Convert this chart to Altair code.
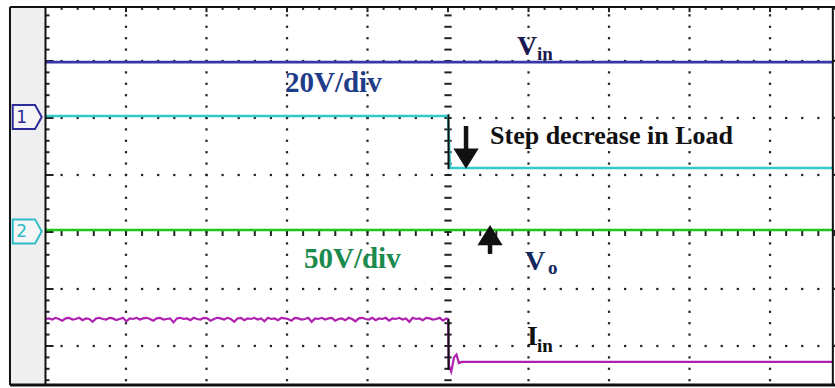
import altair as alt
import numpy as np
import pandas as pd

# ---- screen geometry, in divisions (graticule centre = 0,0) ----
X_MIN, X_MAX = -5.565, 4.807
Y_MIN, Y_MAX = -2.737, 4.070
SCR_LEFT, SCR_RIGHT = -5.0, 4.78
SCR_TOP, SCR_BOTTOM = 3.947, -2.684
STRIP_LEFT = -5.441

# ---- trace levels, in divisions ----
vin_level = 2.98
ch1_before, ch1_after = 2.035, 1.123
vo_level = 0.035
iin_before, iin_after = -1.526, -2.28

# Iin ripple before the load step (offset from the mean level, div)
iin_ripple = [0.00, 0.01, -0.01, 0.02, 0.00, -0.03, 0.01, 0.02, -0.01, 0.00,
              0.02, -0.02, 0.01, 0.00, -0.05, 0.01, 0.02, 0.00, -0.01, 0.02,
              0.01, -0.02, 0.00, 0.02, -0.04, 0.01, 0.00, 0.02, -0.01, 0.01,
              0.02, 0.00, -0.03, 0.01, 0.02, -0.01, 0.00, 0.01, -0.06, 0.01,
              0.02, 0.00, 0.01, -0.02, 0.02, 0.00, -0.01, 0.02, 0.01, -0.03,
              0.00, 0.02, 0.01, -0.01, 0.02, 0.00, -0.05, 0.01, 0.02, -0.02,
              0.01, 0.00, 0.02, -0.01, 0.01, -0.04, 0.02, 0.00, 0.01, -0.02,
              0.02, 0.01, 0.00, -0.03, 0.02, 0.01, -0.01, 0.00, 0.02, -0.05,
              0.01, 0.00, 0.02, -0.01, 0.01, 0.02, -0.03, 0.00, 0.01, -0.02,
              0.02, 0.00, -0.04, 0.01, 0.02, 0.00, -0.01, 0.02, -0.02, 0.01,
              0.00, 0.02, -0.03, 0.01, 0.00, 0.02, -0.01, 0.01, -0.05, 0.02,
              0.00, 0.01, -0.02, 0.02, 0.01, -0.01, 0.00, 0.02, -0.03, 0.01]
# Iin transient right after the step
iin_step_t = [0.0, 0.012, 0.04, 0.075, 0.105, 0.135, 0.17, SCR_RIGHT]
iin_step_v = [iin_before, -2.35, -2.45, -2.20, -2.15, -2.30, iin_after, iin_after]

XS = alt.Scale(domain=[X_MIN, X_MAX], nice=False, zero=False)
YS = alt.Scale(domain=[Y_MIN, Y_MAX], nice=False, zero=False)


def X(f="t"):
    return alt.X(f"{f}:Q", scale=XS, axis=None)


def Y(f="v"):
    return alt.Y(f"{f}:Q", scale=YS, axis=None)


def segs(rows):
    return pd.DataFrame(rows, columns=["t", "t2", "v", "v2"])


def hline(v, t0=SCR_LEFT, t1=SCR_RIGHT):
    return (t0, t1, v, v)


def vline(t, v0=SCR_BOTTOM, v1=SCR_TOP):
    return (t, t, v0, v1)


def rules(rows, color, width):
    return alt.Chart(segs(rows)).mark_rule(color=color, strokeWidth=width).encode(
        x=X(), x2=alt.X2("t2"), y=Y(), y2=alt.Y2("v2"))


# ---- left gray strip ----
strip = alt.Chart(pd.DataFrame([{"t": STRIP_LEFT, "t2": SCR_LEFT,
                                 "v": SCR_BOTTOM, "v2": SCR_TOP}])).mark_rect(
    color="#efefef").encode(x=X(), x2=alt.X2("t2"), y=Y(), y2=alt.Y2("v2"))

# ---- graticule dots ----
minor_v = [round(k * 0.2, 2) for k in range(-13, 20)]
minor_t = [round(k * 0.2, 2) for k in range(-24, 25)]
dots = []
for tg in [-4, -3, -2, -1, 1, 2, 3, 4]:
    dots += [(tg, v) for v in minor_v]
for vg in [3, 2, 1, -1, -2]:
    dots += [(t, vg) for t in minor_t]
grid = alt.Chart(pd.DataFrame(dots, columns=["t", "v"])).mark_square(
    size=5, color="#222", opacity=1).encode(x=X(), y=Y())

# ---- centre axes and edge ticks ----
centre_v = rules([(-0.045, 0.045, v, v) for v in minor_v], "#222", 2)
centre_h = rules([(t, t, vo_level, -0.07) for t in minor_t], "#222", 2)
left_ticks = rules([(SCR_LEFT, SCR_LEFT + (0.1 if abs(v - round(v)) < 1e-6 else 0.05), v, v)
                    for v in minor_v], "#222", 2)
top_ticks = rules([(t, t, SCR_TOP, SCR_TOP - (0.09 if abs(t - round(t)) < 1e-6 else 0.05))
                   for t in minor_t], "#222", 2)


# ---- traces ----
def trace(ts, vs, color, width):
    return alt.Chart(pd.DataFrame({"t": ts, "v": vs, "i": range(len(ts))})).mark_line(
        color=color, strokeWidth=width, interpolate="linear").encode(
        x=X(), y=Y(), order="i:Q")


vin_tr = trace([SCR_LEFT, SCR_RIGHT], [vin_level, vin_level], "#3636a6", 2.6)
ch1_tr = trace([SCR_LEFT, 0.0, 0.025, SCR_RIGHT],
               [ch1_before, ch1_before, ch1_after, ch1_after], "#35c8c8", 2.5)
vo_tr = trace([SCR_LEFT, SCR_RIGHT], [vo_level, vo_level], "#22c422", 2.5)
pre_t = list(np.linspace(SCR_LEFT, -0.02, len(iin_ripple)))
iin_tr = trace(pre_t + iin_step_t,
               [iin_before + d for d in iin_ripple] + iin_step_v, "#b020b0", 2.2)
step_edges = rules([(0.006, 0.006, ch1_before + 0.03, ch1_after - 0.02),
                    (0.006, 0.006, iin_before, -2.42)], "#111", 2)

# ---- frame ----
frame = rules([hline(SCR_TOP, STRIP_LEFT, X_MAX),
               vline(STRIP_LEFT), vline(SCR_LEFT), vline(SCR_RIGHT)], "#111", 2)
frame_bottom = rules([hline(SCR_BOTTOM, STRIP_LEFT, X_MAX)], "#111", 3)

# ---- channel markers ----
TAG = "M-1,-0.83L0.54,-0.83L1,0L0.54,0.83L-1,0.83Z"
markers = pd.DataFrame({"t": [-5.227, -5.227], "v": [2.018, 0.01],
                        "label": ["1", "2"], "col": ["#2b2b9a", "#2fbcc6"]})
tags = alt.Chart(markers).mark_point(
    shape=TAG, size=841, filled=True, fill="#f6f6f6", strokeWidth=2, opacity=1,
    fillOpacity=1).encode(x=X(), y=Y(), stroke=alt.Stroke("col:N", scale=None))
tag_text = alt.Chart(markers).mark_text(
    font="DejaVu Sans", fontSize=17, dx=-5.5, dy=1, baseline="middle", align="center").encode(
    x=X(), y=Y(), text="label:N", color=alt.Color("col:N", scale=None))

# ---- arrows ----
arrow_shafts = rules([(0.224, 0.224, 1.86, 1.42), (0.522, 0.522, -0.04, -0.385)], "#111", 4.5)
heads = pd.DataFrame({"t": [0.224, 0.522], "v": [1.289, -0.053],
                      "shape": ["M-1,-0.8L1,-0.8L0,0.8Z", "M-1,0.8L1,0.8L0,-0.8Z"]})
arrow_heads = alt.Chart(heads).mark_point(filled=True, color="#111", opacity=1, size=640).encode(
    x=X(), y=Y(), shape=alt.Shape("shape:N", scale=None))

# ---- labels ----
labels = pd.DataFrame([
    ("20V/div", -2.025, 2.456, 29, "#1f3c88"),
    ("50V/div", -1.789, -0.632, 29, "#1a8a4e"),
    ("Step decrease in Load", 0.522, 1.544, 26, "#111111"),
    ("V", 0.857, 3.105, 28, "#1a1a50"),
    ("in", 1.106, 3.018, 19, "#1a1a50"),
    ("V", 0.957, -0.667, 28, "#14285e"),
    ("o", 1.242, -0.737, 19, "#14285e"),
    ("I", 0.981, -1.982, 28, "#111111"),
    ("in", 1.106, -2.105, 19, "#111111"),
], columns=["text", "t", "v", "size", "col"])
label_text = alt.Chart(labels).mark_text(
    font="Liberation Serif", fontWeight="bold", align="left", baseline="alphabetic").encode(
    x=X(), y=Y(), text="text:N",
    size=alt.Size("size:Q", scale=None), color=alt.Color("col:N", scale=None))

chart = alt.layer(
    strip, grid, centre_v, centre_h, left_ticks, top_ticks,
    vin_tr, ch1_tr, vo_tr, iin_tr, step_edges,
    frame, frame_bottom, tags, tag_text, arrow_shafts, arrow_heads, label_text,
).properties(
    width=835, height=388, padding=0, background="white",
    autosize=alt.AutoSizeParams(type="none"),
).configure_view(stroke=None)

chart.save("out.html", embed_options={"renderer": "svg", "actions": False})
